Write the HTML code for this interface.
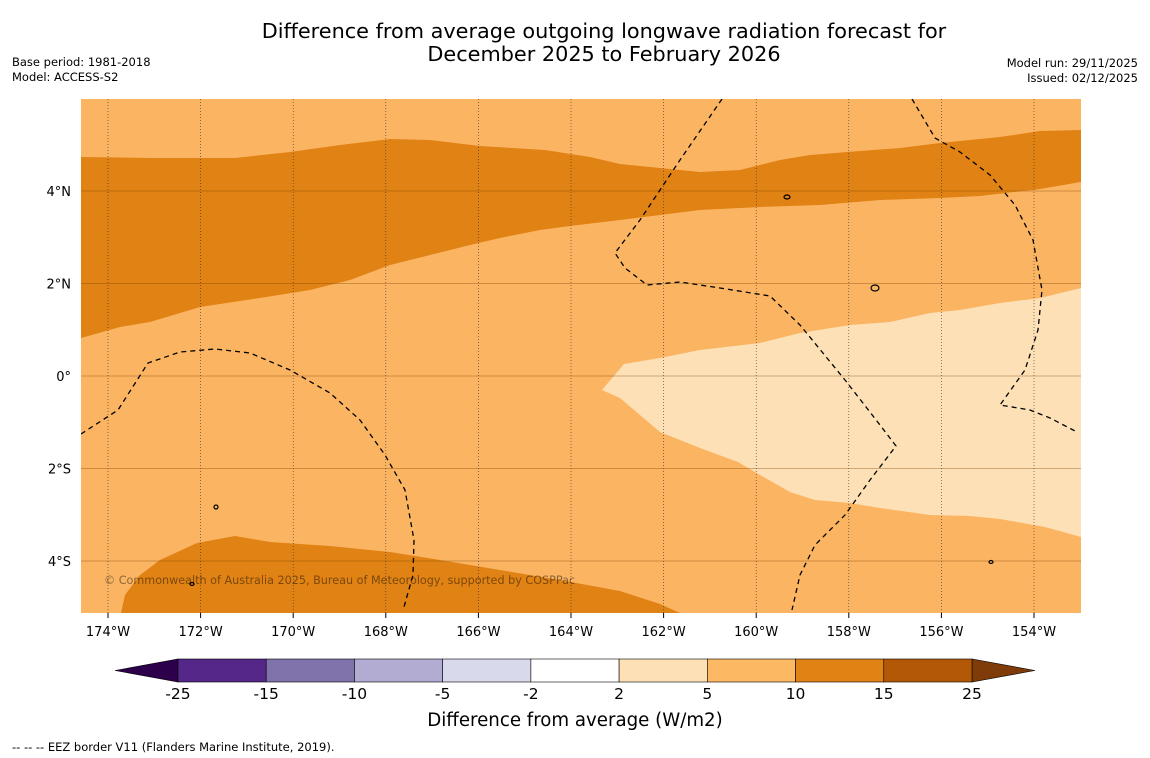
<!DOCTYPE html>
<html><head><meta charset="utf-8"><style>
body{margin:0;background:#fff;width:1150px;height:758px;overflow:hidden;font-family:"DejaVu Sans","Liberation Sans",sans-serif}
svg{display:block}
</style></head><body>
<svg id="s" width="1150" height="758" xmlns="http://www.w3.org/2000/svg">
<text x="604" y="38" text-anchor="middle" font-size="20.8">Difference from average outgoing longwave radiation forecast for</text>
<text x="604" y="61" text-anchor="middle" font-size="20.8">December 2025 to February 2026</text>
<text x="12" y="66" font-size="11.5">Base period: 1981-2018</text>
<text x="12" y="81" font-size="11.5">Model: ACCESS-S2</text>
<text x="1138" y="67" font-size="11.5" text-anchor="end">Model run: 29/11/2025</text>
<text x="1138" y="82" font-size="11.5" text-anchor="end">Issued: 02/12/2025</text>
<defs><clipPath id="cp"><rect x="81" y="99" width="1000" height="514"/></clipPath></defs>
<g clip-path="url(#cp)">
<rect x="81" y="99" width="1000" height="514" fill="#fbb562"/>
<polygon fill="#e08214" points="81,157 150,158 235,158 290,152 340,145 390,139 430,140 480,146 545,150 590,157 620,164 700,172 740,170 780,160 810,155 860,151 900,148 940,143 1000,137 1040,131 1081,130 1081,182 1040,189 980,196 940,198 880,200 820,205 760,207 700,210 660,215 620,220 570,226 540,230 500,238 470,245 430,255 390,265 350,280 310,290 260,298 200,307 170,316 150,322 120,327 81,338"/>
<polygon fill="#fde0b6" points="1081,288 1040,298 1000,303 960,310 930,313 890,322 850,325 800,333 760,343 700,350 660,358 624,364 602,390 620,398 640,415 660,432 700,448 738,462 760,475 790,492 815,500 850,503 880,508 930,515 970,516 1000,519 1045,527 1081,537"/>
<polygon fill="#e08214" points="121,613 125,595 140,575 160,560 197,543 235,536 270,542 330,546 390,552 440,560 500,570 560,580 620,591 660,604 680,613"/>
<g id="grid"></g>
<g fill="none" stroke="#000" stroke-width="1.3" stroke-dasharray="5,4">
<polyline points="81,434 118,410 148,363 180,352 215,349 250,353 290,370 330,393 360,420 385,455 405,490 414,540 413,575 404,607"/>
<polyline points="722,99 680,160 640,220 615,253 625,268 647,285 680,282 720,288 770,296 800,325 845,380 880,425 896,446 870,480 845,515 815,545 800,575 792,610"/>
<polyline points="912,99 935,138 960,152 990,175 1015,205 1033,240 1042,290 1038,330 1025,370 1000,405 1030,410 1050,418 1077,432"/>
</g>
<g fill="none" stroke="#000" stroke-width="1.2">
<ellipse cx="787" cy="197" rx="3" ry="2"/><ellipse cx="875" cy="288" rx="4" ry="3"/><ellipse cx="216" cy="507" rx="2" ry="2"/><ellipse cx="192" cy="584" rx="2" ry="1.5"/><ellipse cx="991" cy="562" rx="2" ry="1.5"/>
</g>
<text x="104" y="584" font-size="11.2" fill="#000" fill-opacity="0.45">© Commonwealth of Australia 2025, Bureau of Meteorology, supported by COSPPac</text>
</g>
<g id="axes" font-size="13"></g>
<g id="cbar"></g>
<text x="575" y="726" text-anchor="middle" font-size="18.2">Difference from average (W/m2)</text>
<text x="12" y="751" font-size="11.5">--  --  -- EEZ border V11 (Flanders Marine Institute, 2019).</text>
</svg>
<script>
const lonTicks=[-174,-172,-170,-168,-166,-164,-162,-160,-158,-156,-154];
const latTicks=[4,2,0,-2,-4];
const cbarBounds=[-25,-15,-10,-5,-2,2,5,10,15,25];
const cbarColors=["#542788","#8073ac","#b2abd2","#d8daeb","#ffffff","#fee0b6","#fdb863","#e08214","#b35806"];
const NS="http://www.w3.org/2000/svg";
function X(lon){return 108+(lon+174)*46.3;}
function Y(lat){return 376-lat*46.25;}
function mk(t,a,p){const e=document.createElementNS(NS,t);for(const k in a)e.setAttribute(k,a[k]);p.appendChild(e);return e;}
const grid=document.getElementById('grid'),axes=document.getElementById('axes'),cb=document.getElementById('cbar');
lonTicks.forEach(l=>{
 const ln=mk('line',{x1:X(l),x2:X(l),y1:99,y2:613,stroke:'#333','stroke-width':0.6,'stroke-dasharray':'1,2'},grid);
 
 
 mk('line',{x1:X(l),x2:X(l),y1:613,y2:618,stroke:'#000'},axes);
 const t=mk('text',{x:X(l),y:636,'text-anchor':'middle'},axes);t.textContent=Math.abs(l)+'°W';
 
 
});
latTicks.forEach(l=>{
 const ln=mk('line',{x1:81,x2:1081,y1:Y(l),y2:Y(l),stroke:'#7a4000','stroke-width':0.6,'stroke-opacity':0.7},grid);
 
 
 const t=mk('text',{x:71,y:Y(l)+5,'text-anchor':'end'},axes);t.textContent=l==0?'0°':Math.abs(l)+'°'+(l>0?'N':'S');
 
 
});
const x0=178,x1=972,w=(x1-x0)/cbarColors.length,yt=659,yb=682;
const lt=mk('polygon',{points:`115,${(yt+yb)/2} ${x0},${yt} ${x0},${yb}`,fill:'#2d004b',stroke:'#000','stroke-width':0.6},cb);


const rt=mk('polygon',{points:`1035,${(yt+yb)/2} ${x1},${yt} ${x1},${yb}`,fill:'#7f3b08',stroke:'#000','stroke-width':0.6},cb);


cbarColors.forEach((c,i)=>{
 const r=mk('rect',{x:x0+i*w,y:yt,width:w,height:yb-yt,fill:c,stroke:'#000','stroke-width':0.6},cb);
 
 
});
cbarBounds.forEach((b,i)=>{
 const t=mk('text',{x:x0+i*w,y:699,'text-anchor':'middle','font-size':15.5},cb);t.textContent=b;
 
 
});
</script>
</body></html>
